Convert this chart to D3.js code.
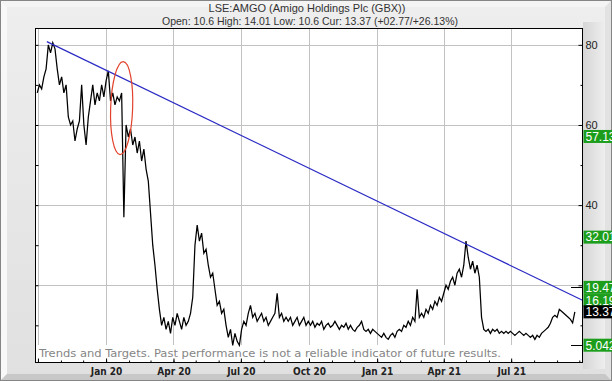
<!DOCTYPE html>
<html>
<head>
<meta charset="utf-8">
<script src="https://cdn.jsdelivr.net/npm/d3@7/dist/d3.min.js"></script>
<style>
    html, body { margin: 0; padding: 0; background: #e8e8e8; }
    svg { display: block; }
</style>
</head>
<body>
<div id="chart"></div>
<script>
// ── Datos ────────────────────────────────────────────────
// precios de cierre cada 3 días desde el 30-sep-2019, por trimestre
const seriesStart = '2019-09-30';
const stepDays    = 3;
const q4_2019 = [68,70,69,72,74,80,78,80.5,79,74,70,72,68,70,62,60,61,56,59,61,70,60,55,62,66,70,65,68,66,70,67];
const q1_2020 = [71,73.5,66,68,65,67,66,68,37,60,57,59,55,57,53,56,51,54,49,46,38,30,25,19,14,10,12,9,11,8];
const q2_2020 = [12,10,13,11,9,12,10,11,13,17,30,35,31,33,28,29,25,22,23,19,15,16,13,14,10,7,9,5,8,6];
const q3_2020 = [5,9,11,10,13,15,12,13,11,12,13,11,12,10,11,12,13,18,12,13,11,12,11,12,10,11,12,10,11,12,10];
const q4_2020 = [11,10,11,9.5,10.5,10,11,9,10,10.5,9.5,10,11,10,9,10,9.5,10.5,9,10,9,8.5,9.5,10,11,9,8.5,9,8,9,8.5];
const q1_2021 = [8,7.5,7,8,7,6.5,7.5,8,7,8.5,9,8.5,10,9.5,11,10,12,11,19,12,13,12,14,13,15,14,16,15,17,16];
const q2_2021 = [18,20,19,21,22,20,23,24,22,25,31,27,24,26,23,25,22,12,9,8.5,9,8,9,8.5,9,8,8.5,8,8.5,8];
const q3_2021 = [8.5,8,7.5,8,8.5,8,7.5,8,7.5,7,7.5,6.5,7.5,7,8,8.5,9,9.5,10.5,12,12.5,12,14,13.5,13,12.5,12,11.5,10.6,13.37];

const xDomain     = ['2019-09-27', '2021-10-06'];
const yDomain     = [0.6, 84.2];
const gridDates   = ['2019-10-01','2020-01-01','2020-04-01','2020-07-01','2020-10-01','2021-01-01','2021-04-01','2021-07-01'];
const tickLabels  = ['', 'Jan 20','Apr 20','Jul 20','Oct 20','Jan 21','Apr 21','Jul 21'];
const yMajor      = [20, 40, 60, 80];
const yMinor      = [10, 30, 50, 70];
const labelValues = [57.13, 32.01, 19.47, 16.19, 13.37, 5.042];
const currentPrice = 13.37;
const targetLines = [19.47, 5.042];
const trendPoints = [['2019-10-13', 80.8], ['2021-10-06', 16.19]];
const ellipseCentre = ['2020-01-22', 64.2];

const title    = 'LSE:AMGO (Amigo Holdings Plc (GBX))';
const subtitle = 'Open: 10.6 High: 14.01 Low: 10.6 Cur: 13.37 (+02.77/+26.13%)';
const disclaimer = 'Trends and Targets. Past performance is not a reliable indicator of future results.';

// ── Lienzo ───────────────────────────────────────────────
const W = 612, H = 381;
const P = { left: 35, right: 583, top: 28, bottom: 363 };
const parse = d3.utcParse('%Y-%m-%d');

const closes = [].concat(q4_2019, q1_2020, q2_2020, q3_2020, q4_2020, q1_2021, q2_2021, q3_2021);
const t0 = parse(seriesStart);
const data = closes.map((v, i) => ({ date: d3.utcDay.offset(t0, i * stepDays), value: v }));

const x = d3.scaleUtc().domain(xDomain.map(parse)).range([P.left, P.right]);
const y = d3.scaleLinear().domain(yDomain).range([P.bottom, P.top]);

const svg = d3.select('#chart').append('svg')
    .attr('width', W).attr('height', H)
    .attr('viewBox', `0 0 ${W} ${H}`);

const defs = svg.append('defs');
const bg = defs.append('linearGradient').attr('id', 'bg').attr('x1', 0).attr('y1', 0).attr('x2', 0).attr('y2', 1);
bg.append('stop').attr('offset', 0).attr('stop-color', '#eeeeee');
bg.append('stop').attr('offset', 1).attr('stop-color', '#e0e0e0');
const side = defs.append('linearGradient').attr('id', 'side').attr('x1', 0).attr('y1', 0).attr('x2', 1).attr('y2', 0);
side.append('stop').attr('offset', 0).attr('stop-color', '#d6d6d6');
side.append('stop').attr('offset', 1).attr('stop-color', '#eeeeee');
defs.append('clipPath').attr('id', 'clip').append('rect')
    .attr('x', P.left).attr('y', P.top)
    .attr('width', P.right - P.left).attr('height', P.bottom - P.top);

// fondo y biselado del marco
svg.append('rect').attr('width', W).attr('height', H).attr('fill', 'url(#bg)');
svg.append('rect').attr('x', P.right).attr('y', P.top - 6).attr('width', W - P.right - 7).attr('height', P.bottom - P.top + 12)
    .attr('fill', 'url(#side)');
const b = 7;
const bevel = [
    { pts: [[0,0],[W,0],[W-b,b],[b,b]],       fill: '#f4f4f4' },
    { pts: [[0,0],[b,b],[b,H-b],[0,H]],       fill: '#f8f8f8' },
    { pts: [[W,0],[W,H],[W-b,H-b],[W-b,b]],   fill: '#e2e2e2' },
    { pts: [[0,H],[W,H],[W-b,H-b],[b,H-b]],   fill: '#c8c8c8' }
];
svg.append('g').selectAll('polygon').data(bevel).join('polygon')
    .attr('points', d => d.pts.join(' '))
    .attr('fill', d => d.fill);
svg.append('rect').attr('x', 0.5).attr('y', 0.5).attr('width', W - 1).attr('height', H - 1)
    .attr('fill', 'none').attr('stroke', '#858585');

// títulos
svg.append('text').attr('x', 307).attr('y', 12)
    .attr('text-anchor', 'middle')
    .style('font-family', 'Liberation Sans, Arial, sans-serif').style('font-size', '11px').style('fill', '#333')
    .text(title);
svg.append('text').attr('x', 310).attr('y', 25)
    .attr('text-anchor', 'middle')
    .style('font-family', 'Liberation Sans, Arial, sans-serif').style('font-size', '10.5px').style('fill', '#333')
    .text(subtitle);

// área del gráfico
svg.append('rect').attr('x', P.left).attr('y', P.top)
    .attr('width', P.right - P.left).attr('height', P.bottom - P.top)
    .attr('fill', '#fff');

// rejilla
const grid = svg.append('g').attr('stroke', '#c2c2c2').attr('stroke-width', 1);
grid.selectAll('line.h').data(yMajor).join('line').attr('class', 'h')
    .attr('x1', P.left).attr('x2', P.right - 4)
    .attr('y1', d => Math.round(y(d)) + 0.5).attr('y2', d => Math.round(y(d)) + 0.5);
grid.selectAll('line.v').data(gridDates.map(parse)).join('line').attr('class', 'v')
    .attr('x1', d => Math.round(x(d)) + 0.5).attr('x2', d => Math.round(x(d)) + 0.5)
    .attr('y1', P.top).attr('y2', 345);

// leyenda inferior
svg.append('text').attr('x', 39).attr('y', 357)
    .style('font-family', 'DejaVu Sans Condensed, DejaVu Sans, sans-serif').style('font-size', '11px')
    .style('fill', '#858585')
    .attr('textLength', 462).attr('lengthAdjust', 'spacingAndGlyphs')
    .text(disclaimer);

// serie de precios
const line = d3.line().x(d => x(d.date)).y(d => y(d.value));
svg.append('path').datum(data)
    .attr('clip-path', 'url(#clip)')
    .attr('fill', 'none').attr('stroke', '#000').attr('stroke-width', 1.25)
    .attr('stroke-linejoin', 'miter')
    .attr('d', line);

// línea de tendencia
svg.append('line')
    .attr('x1', x(parse(trendPoints[0][0]))).attr('y1', y(trendPoints[0][1]))
    .attr('x2', x(parse(trendPoints[1][0]))).attr('y2', y(trendPoints[1][1]))
    .attr('stroke', '#2a2ac4').attr('stroke-width', 1.2);

// elipse de anotación
const ex = x(parse(ellipseCentre[0])), ey = y(ellipseCentre[1]);
svg.append('ellipse')
    .attr('cx', ex).attr('cy', ey).attr('rx', 11).attr('ry', 46.5)
    .attr('transform', `rotate(2,${ex},${ey})`)
    .attr('fill', 'none').attr('stroke', '#e2432c').attr('stroke-width', 1.2);

// marco
svg.append('rect').attr('x', P.left + 0.5).attr('y', P.top + 0.5)
    .attr('width', P.right - P.left - 1).attr('height', P.bottom - P.top - 1)
    .attr('fill', 'none').attr('stroke', '#000');

// eje derecho
const font = 'Liberation Sans, Arial, sans-serif';
svg.append('g').attr('transform', `translate(${P.right - 0.5},0)`)
    .call(d3.axisRight(y).tickValues(yMajor).tickSize(-4).tickPadding(3))
    .call(g => g.select('.domain').remove())
    .call(g => g.selectAll('line').attr('stroke', '#000'))
    .call(g => g.selectAll('text').style('font-family', font).style('font-size', '11px').attr('fill', '#222'));
svg.append('g').attr('transform', `translate(${P.right - 0.5},0)`)
    .call(d3.axisRight(y).tickValues(yMinor).tickSize(-2).tickFormat(''))
    .call(g => g.select('.domain').remove())
    .call(g => g.selectAll('line').attr('stroke', '#000'));
// marcas del eje izquierdo
svg.append('g').attr('transform', `translate(${P.left + 0.5},0)`)
    .call(d3.axisLeft(y).tickValues(yMajor.concat(yMinor)).tickSize(-3).tickFormat(''))
    .call(g => g.select('.domain').remove())
    .call(g => g.selectAll('line').attr('stroke', '#000'));

// eje inferior
svg.append('g').attr('transform', `translate(0,${P.bottom - 0.5})`)
    .call(d3.axisBottom(x).ticks(d3.utcMonth.every(1)).tickSize(-2).tickFormat(''))
    .call(g => g.select('.domain').remove())
    .call(g => g.selectAll('line').attr('stroke', '#000'));
svg.append('g').attr('transform', `translate(0,${P.bottom - 0.5})`)
    .call(d3.axisBottom(x).tickValues(gridDates.map(parse)).tickSize(-4).tickPadding(5)
        .tickFormat((d, i) => tickLabels[i]))
    .call(g => g.select('.domain').remove())
    .call(g => g.selectAll('line').attr('stroke', '#000'))
    .call(g => g.selectAll('text')
        .style('font-family', 'DejaVu Sans Condensed, DejaVu Sans, sans-serif')
        .style('font-size', '10px').style('font-weight', 'bold').attr('fill', '#222'));

// marcas de objetivos
svg.append('g').selectAll('line').data(targetLines).join('line')
    .attr('x1', P.right - 12).attr('x2', P.right)
    .attr('y1', d => Math.round(y(d)) + 0.5).attr('y2', d => Math.round(y(d)) + 0.5)
    .attr('stroke', '#000');

// etiquetas de valor
const tags = svg.append('g').selectAll('g').data(labelValues).join('g')
    .attr('transform', d => `translate(${P.right + 0.5},${y(d)})`);
tags.append('rect').attr('x', 0).attr('y', -6.5).attr('width', W - P.right).attr('height', 13)
    .attr('fill', d => d === currentPrice ? '#000' : '#1c9e1c');
tags.append('text').attr('x', 2).attr('dy', '0.36em')
    .style('font-family', font).style('font-size', '12px').attr('fill', '#fff')
    .text(d => d);
</script>
</body>
</html>
